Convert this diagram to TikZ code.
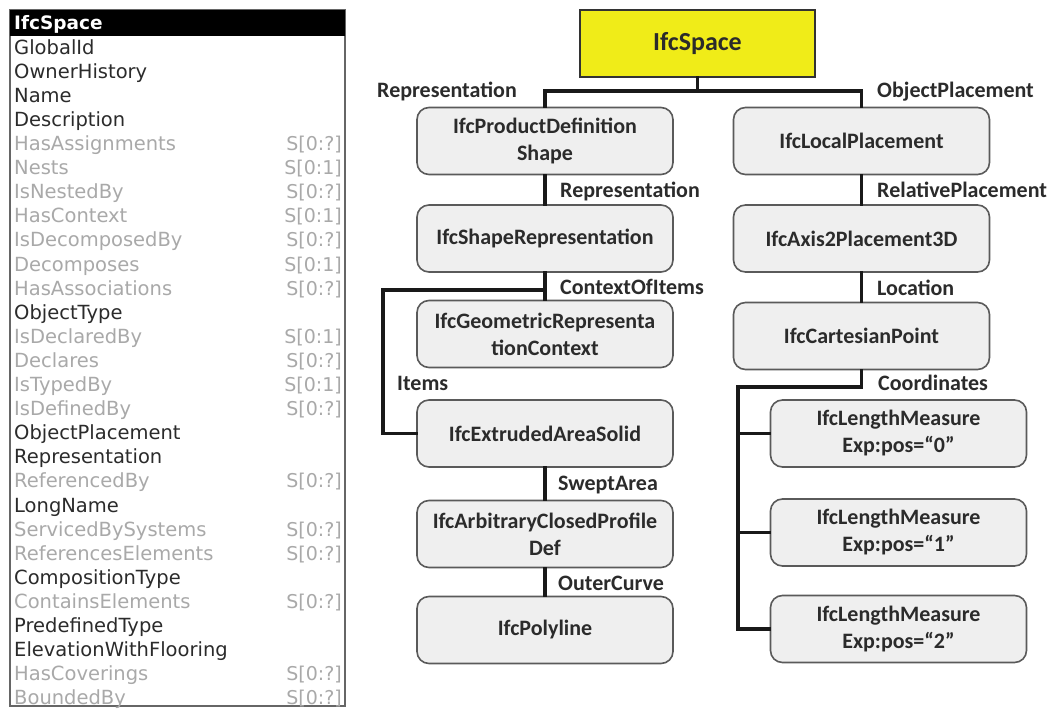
\documentclass[tikz,border=0pt]{standalone}
\usepackage{fontspec}
\setmainfont{Carlito}
\newfontfamily\listfont{DejaVu Sans}
\definecolor{ink}{HTML}{2B2B2B}
\definecolor{faint}{HTML}{A9A9A9}
\definecolor{boxfill}{HTML}{EFEFEF}
\definecolor{boxline}{HTML}{5A5A5A}
\definecolor{rootfill}{RGB}{240,236,24}
\tikzset{
  attr/.style={anchor=base west, inner sep=0pt, text=ink, font=\listfont\fontsize{19.5}{21}\selectfont},
  inv/.style={attr, text=faint},
  card/.style={anchor=base east, inner sep=0pt, text=faint, font=\listfont\fontsize{19}{21}\selectfont},
  ent/.style={draw=boxline, line width=1.6pt, fill=boxfill, rounded corners=12pt,
    minimum width=256pt, minimum height=67pt, align=center, text=ink,
    font=\bfseries\fontsize{22}{27}\selectfont, inner sep=0pt},
  root/.style={draw=black!80, line width=1.6pt, fill=rootfill,
    minimum width=235pt, minimum height=67pt, text=ink,
    font=\bfseries\fontsize{26}{28}\selectfont, inner sep=0pt},
  rel/.style={anchor=base west, inner sep=0pt, text=ink, font=\bfseries\fontsize{22}{27}\selectfont},
  conn/.style={line width=3.5pt, draw=black!90, line join=miter, line cap=rect}
}
\begin{document}
\begin{tikzpicture}[x=1pt, y=-1pt]
\useasboundingbox (0,0) rectangle (1053,709);
\fill[white] (0,0) rectangle (1053,709);

% ---------- attribute list of IfcSpace ----------
\draw[draw=black!60, line width=1.5pt] (10,10) rectangle (345,706);
\fill[black] (10,10) rectangle (345,36);
\node[anchor=base west, inner sep=0pt, text=white, font=\listfont\bfseries\fontsize{18.5}{20}\selectfont] (hdr) at (14,29.5) {IfcSpace};

\foreach \n/\s [count=\i] in {
  GlobalId/attr, OwnerHistory/attr, Name/attr, Description/attr,
  HasAssignments/inv, Nests/inv, IsNestedBy/inv, HasContext/inv,
  IsDecomposedBy/inv, Decomposes/inv, HasAssociations/inv, ObjectType/attr,
  IsDeclaredBy/inv, Declares/inv, IsTypedBy/inv, IsDefinedBy/inv,
  ObjectPlacement/attr, Representation/attr, ReferencedBy/inv, LongName/attr,
  ServicedBySystems/inv, ReferencesElements/inv, CompositionType/attr,
  ContainsElements/inv, PredefinedType/attr, ElevationWithFlooring/attr,
  HasCoverings/inv, BoundedBy/inv}
  \node[\s] (f\i) at (14, 30+24.1*\i) {\n};

\foreach \i/\c in {5/?, 6/1, 7/?, 8/1, 9/?, 10/1, 11/?, 13/1, 14/?, 15/1,
  16/?, 19/?, 21/?, 22/?, 24/?, 27/?, 28/?}
  \node[card] (s\i) at (342, 30+24.1*\i) {S[0:\c]};

% ---------- instance tree ----------
\node[root] (sp) at (697.5,43.5) {IfcSpace};

\node[ent] (pds) at (545,141)   {IfcProductDefinition\\Shape};
\node[ent] (shp) at (545,238.5) {IfcShapeRepresentation};
\node[ent] (grc) at (545,334)   {IfcGeometricRepresenta\\tionContext};
\node[ent] (eas) at (545,433.5) {IfcExtrudedAreaSolid};
\node[ent] (acp) at (545,534)   {IfcArbitraryClosedProfile\\Def};
\node[ent] (pl)  at (545,630)   {IfcPolyline};

\node[ent] (lp)  at (861.5,141)   {IfcLocalPlacement};
\node[ent] (a2p) at (861.5,238.5) {IfcAxis2Placement3D};
\node[ent] (cp)  at (861.5,336)   {IfcCartesianPoint};
\node[ent] (lm0) at (898.5,433.5) {IfcLengthMeasure\\Exp:pos=“0”};
\node[ent] (lm1) at (898.5,532.5) {IfcLengthMeasure\\Exp:pos=“1”};
\node[ent] (lm2) at (898.5,629)   {IfcLengthMeasure\\Exp:pos=“2”};

% junction points of the connectors
\coordinate (top)   at (697.5,91);
\coordinate (items) at (383,290);
\coordinate (coord) at (738,387);

\draw[conn] (sp.south) -- (top);
\draw[conn] (pds.north) |- (top) -| (lp.north);
\draw[conn] (pds.south) -- (shp.north);
\draw[conn] (shp.south) -- (grc.north);
\draw[conn] (shp.south |- items) -- (items) |- (eas.west);
\draw[conn] (eas.south) -- (acp.north);
\draw[conn] (acp.south) -- (pl.north);
\draw[conn] (lp.south) -- (a2p.north);
\draw[conn] (a2p.south) -- (cp.north);
\draw[conn] (cp.south) |- (coord) |- (lm2.west);
\draw[conn] (coord |- lm0.west) -- (lm0.west);
\draw[conn] (coord |- lm1.west) -- (lm1.west);

% relation names
\node[rel] (r1)  at (377,97)  {Representation};
\node[rel] (r2)  at (877,97)  {ObjectPlacement};
\node[rel] (r3)  at (560,197) {Representation};
\node[rel] (r4)  at (877,197) {RelativePlacement};
\node[rel] (r5)  at (560,294) {ContextOfItems};
\node[rel] (r6)  at (877,295) {Location};
\node[rel] (r7)  at (397,390) {Items};
\node[rel] (r8)  at (878,390) {Coordinates};
\node[rel] (r9)  at (558,490) {SweptArea};
\node[rel] (r10) at (558,590) {OuterCurve};
\end{tikzpicture}
\end{document}
